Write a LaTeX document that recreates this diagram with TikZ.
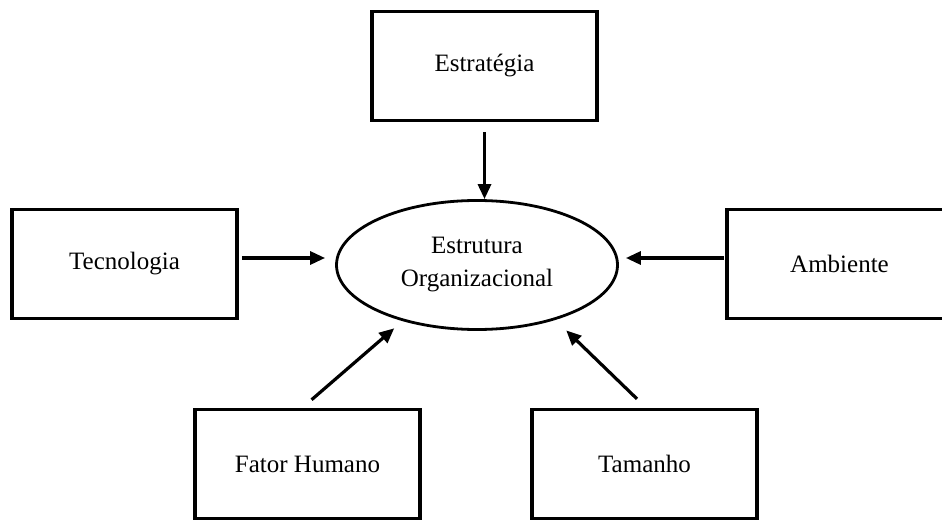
\documentclass[tikz,border=0pt]{standalone}
\usepackage{fontspec}
\setmainfont{Liberation Serif}
\usetikzlibrary{arrows.meta,calc,shapes.geometric}

\tikzset{
  factor/.style={draw, line width=3.8pt, minimum width=225pt, minimum height=109pt,
    inner sep=0pt, font=\fontsize{25}{29}\selectfont},
  core/.style={draw, ellipse, line width=2.8pt, minimum width=281pt, minimum height=129pt,
    inner sep=0pt, align=center, font=\fontsize{25}{33}\selectfont},
  influence/.style={line width=3.2pt, -{Triangle[length=15pt,width=13pt]}}
}

\begin{document}
\begin{tikzpicture}[x=1pt, y=-1pt]
  \useasboundingbox[fill=white] (0,0) rectangle (942,521);

  % the central structure
  \node[core] (eo) at (477,265) {Estrutura\\Organizacional};

  % the factors that shape it
  \node[factor] (est) at (484.5,66) {Estratégia};
  \node[factor] (tec) at (124.5,264) {Tecnologia};
  \node[factor] (amb) at (839.5,264) {Ambiente};
  \node[factor] (fh)  at (307.5,464) {Fator Humano};
  \node[factor] (tm)  at (644.5,464) {Tamanho};

  % influences pointing at the structure
  \draw[influence, shorten <=10pt] (est.south) -- (est.south |- eo.north);
  \draw[influence, shorten <=3pt, shorten >=10pt]
    ([yshift=6pt]tec.east) -- ([yshift=6pt]tec.east -| eo.west);
  \draw[influence, shorten <=1pt, shorten >=7pt]
    ([yshift=6pt]amb.west) -- ([yshift=6pt]amb.west -| eo.east);
  \draw[influence, shorten <=12pt, shorten >=11pt]
    ($(fh.north)+(-5,0)$) -- (eo.217.6);
  \draw[influence, shorten <=12.5pt, shorten >=15pt]
    ($(tm.north)+(1.5,0)$) -- (eo.325.5);
\end{tikzpicture}
\end{document}
